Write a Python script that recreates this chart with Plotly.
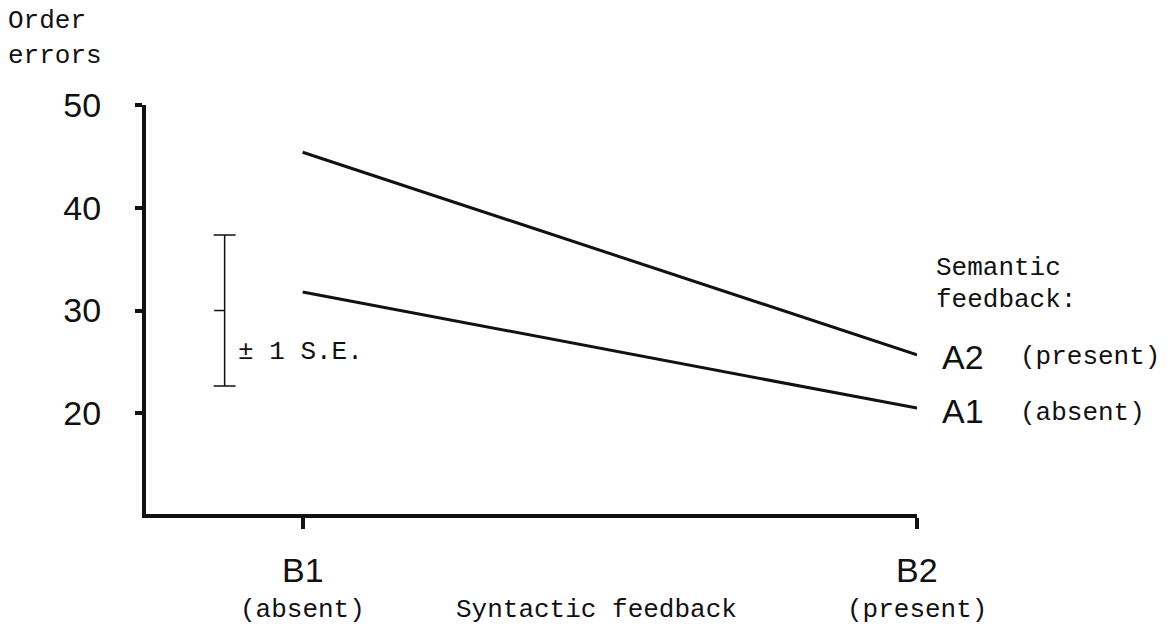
import plotly.graph_objects as go

# Two-factor design: syntactic feedback (B) x semantic feedback (A)
conditions = ["B1", "B2"]
condition_notes = ["(absent)", "(present)"]
x_pos = [1, 2]
a1_absent = [31.8, 20.5]    # A1: semantic feedback absent
a2_present = [45.4, 25.7]   # A2: semantic feedback present
y_ticks = [20, 30, 40, 50]

# Standard-error bar shown at the left of the plot
se_center = 30.0
se_value = 7.35
se_x = 0.873

W, H = 1173, 630
L, R, T, B = 146, 256, 105, 116
PW, PH = W - L - R, H - T - B


def px_x(p):
    return (p - L) / PW


def px_y(p):
    return 1 - (p - T) / PH


MONO = "Liberation Mono, Courier New, monospace"
SANS = "Liberation Sans, Arial, sans-serif"
INK = "#111111"

fig = go.Figure()

for ys in (a2_present, a1_absent):
    fig.add_trace(go.Scatter(
        x=x_pos, y=ys, mode="lines",
        line=dict(color=INK, width=3),
        showlegend=False, hoverinfo="skip",
    ))

# ±1 S.E. bar with caps
fig.add_trace(go.Scatter(
    x=[se_x], y=[se_center], mode="markers",
    marker=dict(size=1, color="rgba(0,0,0,0)"),
    error_y=dict(type="constant", value=se_value, color=INK,
                 thickness=1.5, width=11),
    showlegend=False, hoverinfo="skip",
))
# short tick on the left side of the bar at its centre
fig.add_trace(go.Scatter(
    x=[se_x - 0.017, se_x], y=[se_center, se_center], mode="lines",
    line=dict(color=INK, width=1.5),
    showlegend=False, hoverinfo="skip",
))

fig.update_layout(
    width=W, height=H,
    margin=dict(l=L, r=R, t=T, b=B),
    paper_bgcolor="white", plot_bgcolor="white",
    xaxis=dict(
        range=[0.745, 2.0], showgrid=False, zeroline=False,
        showline=True, linecolor=INK, linewidth=4,
        tickmode="array", tickvals=x_pos, ticktext=["", ""],
        ticks="outside", ticklen=11, tickwidth=4, tickcolor=INK,
    ),
    yaxis=dict(
        range=[10.2, 50], showgrid=False, zeroline=False,
        showline=True, linecolor=INK, linewidth=4,
        tickmode="array", tickvals=y_ticks,
        ticks="outside", ticklen=7, tickwidth=4, tickcolor=INK,
        tickfont=dict(family=SANS, size=34, color=INK),
        ticklabelstandoff=27,
    ),
)

ann = []


def text(x, y, s, font, size, xanchor="left"):
    ann.append(dict(x=x, y=y, xref="paper", yref="paper", text=s,
                    showarrow=False, xanchor=xanchor, yanchor="middle",
                    font=dict(family=font, size=size, color=INK)))


text(px_x(6), px_y(21), "Order", MONO, 26)
text(px_x(6), px_y(56), "errors", MONO, 26)

for xv, lab, note in zip(x_pos, conditions, condition_notes):
    ann.append(dict(x=xv, y=px_y(570), xref="x", yref="paper", text=lab,
                    showarrow=False, xanchor="center", yanchor="middle",
                    font=dict(family=SANS, size=34, color=INK)))
    ann.append(dict(x=xv, y=px_y(610), xref="x", yref="paper", text=note,
                    showarrow=False, xanchor="center", yanchor="middle",
                    font=dict(family=MONO, size=26, color=INK)))

text(px_x(596), px_y(610), "Syntactic feedback", MONO, 26, "center")

text(px_x(934), px_y(268), "Semantic", MONO, 26)
text(px_x(934), px_y(300), "feedback:", MONO, 26)
text(px_x(940), px_y(357), "A2", SANS, 34)
text(px_x(1018), px_y(357), "(present)", MONO, 26)
text(px_x(940), px_y(411), "A1", SANS, 34)
text(px_x(1018), px_y(413), "(absent)", MONO, 26)

text(px_x(236), px_y(352), "±&nbsp;1&nbsp;S.E.", MONO, 26)

fig.update_layout(annotations=ann)
fig.write_html("out.html")
